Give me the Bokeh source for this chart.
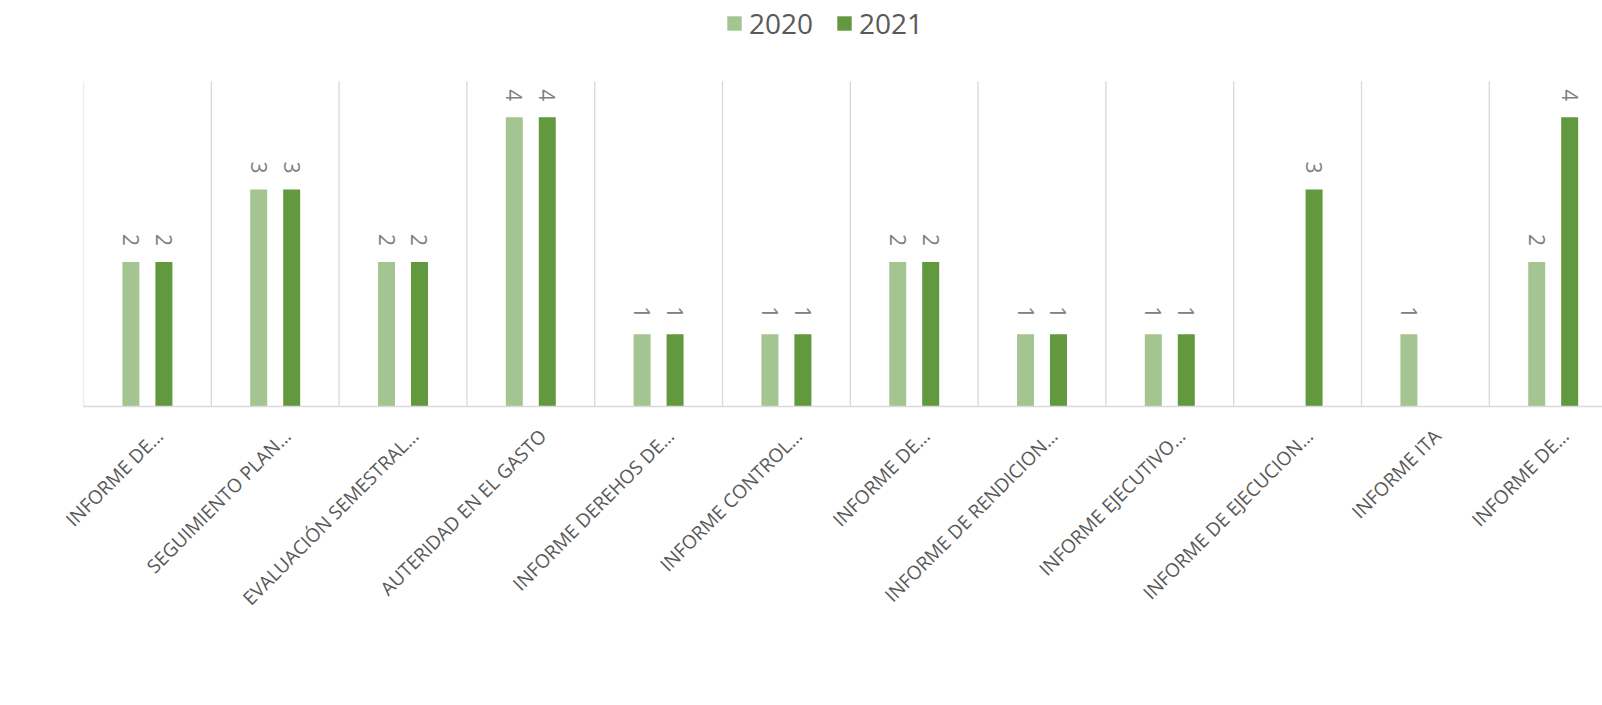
import math
from bokeh.plotting import figure
from bokeh.models import ColumnDataSource, FixedTicker, Range1d, Legend, LegendItem
from bokeh.core.properties import value
from bokeh.embed import file_html
from bokeh.resources import INLINE

categories = [
    "INFORME DE…",
    "SEGUIMIENTO PLAN…",
    "EVALUACIÓN SEMESTRAL…",
    "AUTERIDAD EN EL GASTO",
    "INFORME DEREHOS DE…",
    "INFORME CONTROL…",
    "INFORME DE…",
    "INFORME DE RENDICION…",
    "INFORME EJECUTIVO…",
    "INFORME DE EJECUCION…",
    "INFORME ITA",
    "INFORME DE…",
]
series_names = ["2020", "2021"]
v2020 = [2, 3, 2, 4, 1, 1, 2, 1, 1, None, 1, 2]
v2021 = [2, 3, 2, 4, 1, 1, 2, 1, 1, 3, None, 4]
colors = ["#a4c591", "#62993e"]
axis_max = 4.5

n = len(categories)
offset = 0.129
bar_w = 0.133
label_shift = 0.094

W, H = 1602, 705
left, baseline_px = 83, 406
unit_px = 72.3
cat_px = 127.8
frame_w = W - left
p = figure(width=W, height=H, output_backend="svg", toolbar_location=None,
           x_range=Range1d(-0.5, -0.5 + frame_w / cat_px),
           y_range=Range1d(0, baseline_px / unit_px),
           min_border_left=left, min_border_right=0, min_border_top=0,
           min_border_bottom=H - baseline_px)
p.outline_line_color = None
p.background_fill_color = "white"
p.border_fill_color = "white"
p.xgrid.visible = False
p.ygrid.visible = False
p.yaxis.visible = False

# category separators (from category count), spanning the value axis 0..axis_max
bounds = [i - 0.5 for i in range(n + 1)]
p.segment(x0=bounds, x1=bounds, y0=[0] * len(bounds), y1=[axis_max] * len(bounds),
          line_color="#d9d9d9", line_width=1.3)

renderers = []
for vals, off, col in zip([v2020, v2021], [-offset, offset], colors):
    xs = [i + off for i, v in enumerate(vals) if v is not None]
    ys = [v for v in vals if v is not None]
    src = ColumnDataSource(dict(x=xs, top=ys, lab=[str(v) for v in ys]))
    r = p.vbar(x="x", top="top", width=bar_w, bottom=0, source=src,
               fill_color=col, line_color=None)
    renderers.append(r)
    p.text(x="x", y="top", text="lab", source=src, angle=-math.pi / 2,
           text_align="right", text_baseline="middle", y_offset=-16,
           text_font=value("Open Sans"), text_font_size="21px", text_color="#808080")

ticks = [i + label_shift for i in range(n)]
p.xaxis.ticker = FixedTicker(ticks=ticks)
p.xaxis.major_label_overrides = {t: c for t, c in zip(ticks, categories)}
p.xaxis.major_label_orientation = math.pi / 4
p.xaxis.major_tick_line_color = None
p.xaxis.minor_tick_line_color = None
p.xaxis.axis_line_color = "#d9d9d9"
p.xaxis.axis_line_width = 1.5
p.xaxis.major_label_text_font = "Open Sans"
p.xaxis.major_label_text_font_size = "19px"
p.xaxis.major_label_text_color = "#595959"
p.xaxis.major_label_standoff = 20

legend = Legend(items=[LegendItem(label=s, renderers=[r]) for s, r in zip(series_names, renderers)],
                orientation="horizontal", location=(642, 364))
legend.label_text_font = "Open Sans"
legend.label_text_font_size = "28px"
legend.label_text_color = "#595959"
legend.glyph_width = 18
legend.glyph_height = 18
legend.label_standoff = 6
legend.spacing = 22
legend.padding = 0
legend.margin = 0
legend.border_line_color = None
legend.background_fill_alpha = 0
p.add_layout(legend, "center")

open("out.html", "w").write(file_html(p, INLINE))
